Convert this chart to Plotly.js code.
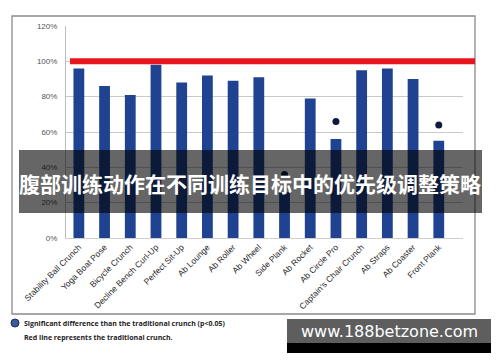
<!DOCTYPE html>
<html>
<head>
<meta charset="utf-8">
<script src="https://cdn.plot.ly/plotly-3.0.1.min.js"></script>
<style>html,body{margin:0;padding:0;background:#fff;}#chart{width:500px;height:362px;}</style>
</head>
<body>
<div id="chart"></div>
<script>
const exercises = ["Stability Ball Crunch","Yoga Boat Pose","Bicycle Crunch","Decline Bench Curl-Up","Perfect Sit-Up","Ab Lounge","Ab Roller","Ab Wheel","Side Plank","Ab Rocket","Ab Circle Pro","Captain's Chair Crunch","Ab Straps","Ab Coaster","Front Plank"];
const activation = [96, 86, 81, 98, 88, 92, 89, 91, 26, 79, 56, 95, 96, 90, 55];
const sigExercises = ["Side Plank","Ab Circle Pro","Front Plank"];
const sigMarkers = [36, 66, 64];
const traditionalCrunch = 100;
const yTicks = [0, 20, 40, 60, 80, 100, 120];
const yTickLabels = ["0%","20%","40%","60%","80%","100%","120%"];
const bannerText = "腹部训练动作在不同训练目标中的优先级调整策略";
const noteLines = ["Significant difference than the traditional crunch (p<0.05)", "Red line represents the traditional crunch."];
const watermark = "www.188betzone.com";

// pixel -> paper helpers (plot area: x 66..463, y 26..238)
const L = 66, R = 463, T = 26, B = 238;
const px = x => (x - L) / (R - L);
const py = y => (B - y) / (B - T);

const traces = [
  {type: 'bar', x: exercises, y: activation, marker: {color: '#1f4391'}, hoverinfo: 'none'},
  {type: 'scatter', mode: 'markers', x: sigExercises, y: sigMarkers,
   marker: {color: '#0f1b3d', size: 7}, hoverinfo: 'none'}
];

const layout = {
  width: 500, height: 362,
  margin: {l: L, r: 500 - R, t: T, b: 362 - B},
  paper_bgcolor: '#fff', plot_bgcolor: '#fff',
  showlegend: false,
  bargap: 0.58,
  font: {family: 'Liberation Sans, Arial, sans-serif', color: '#333'},
  xaxis: {
    tickangle: -45, tickfont: {size: 8.5, color: '#2a2a2a'},
    showline: true, linecolor: '#cfcfcf', linewidth: 1,
    showgrid: false, ticks: '', fixedrange: true
  },
  yaxis: {
    range: [0, 120], tickvals: yTicks, ticktext: yTickLabels,
    tickfont: {size: 8, color: '#555'},
    showgrid: true, gridcolor: '#c9c9c9', gridwidth: 1,
    showline: true, linecolor: '#bdbdbd', linewidth: 1,
    zeroline: false, ticks: '', ticklabelstandoff: 6, fixedrange: true
  },
  shapes: [
    // outer frame
    {type: 'rect', xref: 'paper', yref: 'paper', x0: px(12), x1: px(475), y0: py(314), y1: py(16),
     line: {color: '#8a8a8a', width: 1.3}, fillcolor: 'rgba(0,0,0,0)', layer: 'above'},
    // red reference line
    {type: 'line', xref: 'paper', yref: 'y', x0: px(70), x1: px(475), y0: traditionalCrunch, y1: traditionalCrunch,
     line: {color: '#e8161c', width: 6}},
    // banner
    {type: 'rect', xref: 'paper', yref: 'paper', x0: px(19), x1: px(482), y0: py(213), y1: py(150),
     line: {width: 0}, fillcolor: 'rgba(0,0,0,0.6)'},
    // legend dot
    {type: 'circle', xref: 'paper', yref: 'paper', x0: px(11), x1: px(19), y0: py(327), y1: py(319),
     line: {color: '#1d2b55', width: 1}, fillcolor: '#3b5b9a'},
    // watermark box
    {type: 'rect', xref: 'paper', yref: 'paper', x0: px(287), x1: px(491), y0: py(343), y1: py(319),
     line: {width: 0}, fillcolor: '#5e5e5e'},
    {type: 'rect', xref: 'paper', yref: 'paper', x0: px(287), x1: px(491), y0: py(353), y1: py(343),
     line: {width: 0}, fillcolor: '#000'}
  ],
  annotations: [
    {xref: 'paper', yref: 'paper', x: px(250), y: py(183), text: '<b>' + bannerText + '</b>', showarrow: false,
     font: {family: 'Noto Sans CJK SC', size: 21, color: '#fff'}, xanchor: 'center', yanchor: 'middle'},
    {xref: 'paper', yref: 'paper', x: px(22), y: py(323.5), text: '<b>' + noteLines[0] + '</b>', showarrow: false,
     font: {family: 'Open Sans, sans-serif', size: 7, color: '#222'}, xanchor: 'left', yanchor: 'middle'},
    {xref: 'paper', yref: 'paper', x: px(22), y: py(337.5), text: '<b>' + noteLines[1] + '</b>', showarrow: false,
     font: {family: 'Open Sans, sans-serif', size: 7, color: '#222'}, xanchor: 'left', yanchor: 'middle'},
    {xref: 'paper', yref: 'paper', x: px(389), y: py(331), text: watermark, showarrow: false,
     font: {family: 'DejaVu Sans', size: 16, color: '#fff'}, xanchor: 'center', yanchor: 'middle'}
  ]
};

Plotly.newPlot('chart', traces, layout, {displayModeBar: false, staticPlot: true});
</script>
</body>
</html>
